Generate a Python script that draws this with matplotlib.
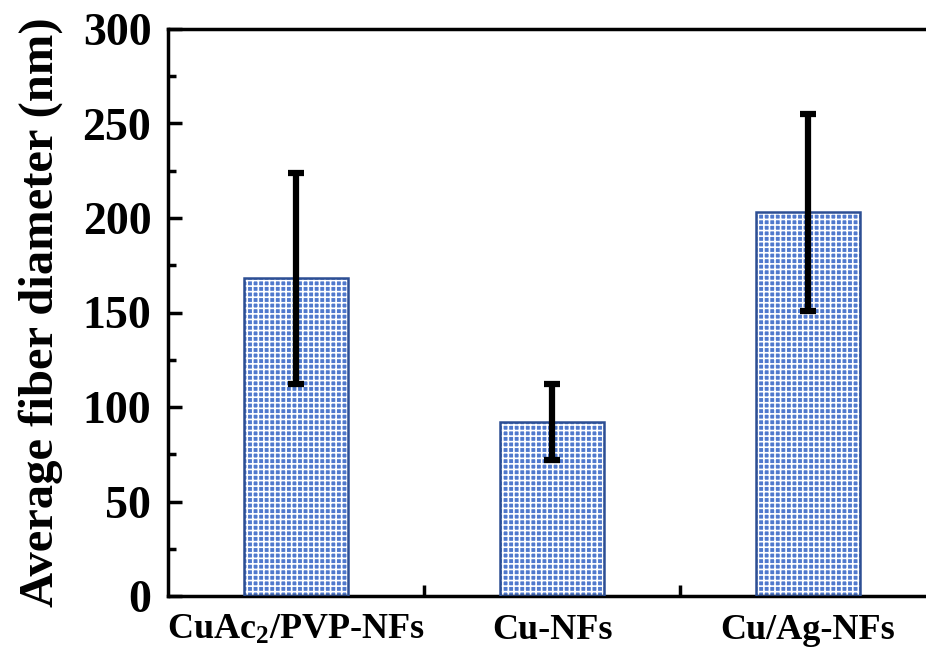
import numpy as np
import matplotlib
matplotlib.use('Agg')
import matplotlib.pyplot as plt
from matplotlib.ticker import MultipleLocator, FixedLocator

plt.rcParams['font.family'] = 'Liberation Serif'
plt.rcParams['font.weight'] = 'bold'
plt.rcParams['mathtext.fontset'] = 'custom'
plt.rcParams['mathtext.rm'] = 'Liberation Serif:bold'
plt.rcParams['mathtext.default'] = 'rm'
plt.rcParams['hatch.linewidth'] = 1.2

# data
samples = ['CuAc$_2$/PVP-NFs', 'Cu-NFs', 'Cu/Ag-NFs']
diam = [168, 92, 203]
err = [56, 20, 52]

fig = plt.figure(figsize=(9.26, 6.52), dpi=100)
ax = fig.add_axes([168/926, 56/652, 768/926, 567/652])

x = np.arange(len(samples))
ax.bar(x, diam, width=0.41, color='#5079cd', edgecolor='white', hatch='+++', linewidth=0, zorder=2)
ax.bar(x, diam, width=0.41, fill=False, edgecolor='#2d4f94', linewidth=1.8, zorder=3)
ax.errorbar(x, diam, yerr=err, fmt='none', ecolor='black', elinewidth=4.5, capsize=6, capthick=4.5, zorder=4)

ax.set_xlim(-0.5, 2.5)
ax.set_ylim(0, 300)
ax.set_xticks(x)
ax.set_xticklabels(samples, fontsize=26, fontweight='bold')
ax.xaxis.set_minor_locator(FixedLocator([0.5, 1.5]))
ax.tick_params(axis='x', which='major', length=0, pad=13)
ax.tick_params(axis='x', which='minor', direction='in', length=8, width=2.5, top=False)

ax.yaxis.set_major_locator(MultipleLocator(50))
ax.yaxis.set_minor_locator(MultipleLocator(25))
ax.tick_params(axis='y', which='major', direction='in', length=10, width=2.5, labelsize=33, pad=12, right=False)
ax.tick_params(axis='y', which='minor', direction='in', length=6, width=2.5, right=False)
for lab in ax.get_yticklabels():
    lab.set_fontweight('bold')

ax.set_ylabel('Average fiber diameter (nm)', fontsize=35, fontweight='bold', labelpad=14)
for s in ax.spines.values():
    s.set_linewidth(2.5)

plt.savefig('out.png', dpi=100)
